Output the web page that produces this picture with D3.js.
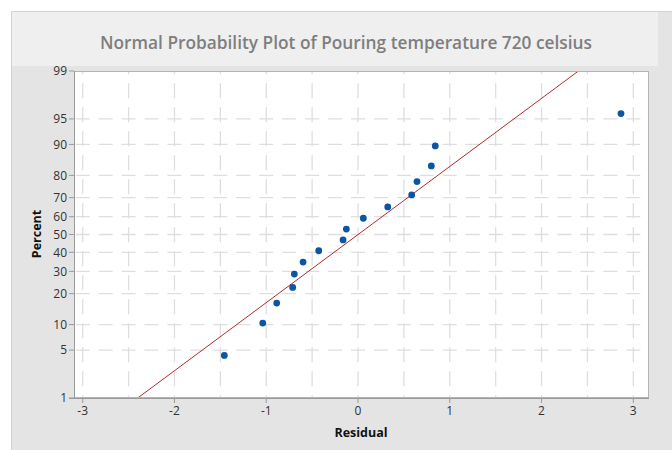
<!DOCTYPE html>
<html>
<head>
<meta charset="utf-8">
<script src="https://cdn.jsdelivr.net/npm/d3@7"></script>
<style>
  body { margin: 0; background: #fff; }
  svg { display: block; }
  text { font-family: "Open Sans", "Noto Sans", sans-serif; }
</style>
</head>
<body>
<svg></svg>
<script>
// residuals, sorted
const residuals = [-1.457, -1.038, -0.886, -0.712, -0.694, -0.599, -0.428, -0.163,
                   -0.127, 0.058, 0.324, 0.585, 0.643, 0.799, 0.842, 2.866]
const percentTicks = [1, 5, 10, 20, 30, 40, 50, 60, 70, 80, 90, 95, 99]
const percentGrid = [5, 10, 20, 30, 40, 50, 60, 70, 80, 90, 95]
const residualTicks = [-3, -2, -1, 0, 1, 2, 3]
const residualGrid = [-3, -2.5, -2, -1.5, -1, -0.5, 0, 0.5, 1, 1.5, 2, 2.5, 3]
const title = 'Normal Probability Plot of Pouring temperature 720 celsius'

// inverse normal cdf (Acklam)
function qnorm(p) {
  const a = [-39.69683028665376, 220.9460984245205, -275.9285104469687, 138.3577518672690, -30.66479806614716, 2.506628277459239]
  const b = [-54.47609879822406, 161.5858368580409, -155.6989798598866, 66.80131188771972, -13.28068155288572]
  const c = [-0.007784894002430293, -0.3223964580411365, -2.400758277161838, -2.549732539343734, 4.374664141464968, 2.938163982698783]
  const d = [0.007784695709041462, 0.3224671290700398, 2.445134137142996, 3.754408661907416]
  const pl = 0.02425
  let q, r
  if (p < pl) {
    q = Math.sqrt(-2 * Math.log(p))
    return (((((c[0]*q+c[1])*q+c[2])*q+c[3])*q+c[4])*q+c[5]) / ((((d[0]*q+d[1])*q+d[2])*q+d[3])*q+1)
  }
  if (p > 1 - pl) {
    q = Math.sqrt(-2 * Math.log(1 - p))
    return -(((((c[0]*q+c[1])*q+c[2])*q+c[3])*q+c[4])*q+c[5]) / ((((d[0]*q+d[1])*q+d[2])*q+d[3])*q+1)
  }
  q = p - 0.5
  r = q * q
  return (((((a[0]*r+a[1])*r+a[2])*r+a[3])*r+a[4])*r+a[5])*q / (((((b[0]*r+b[1])*r+b[2])*r+b[3])*r+b[4])*r+1)
}

const W = 672, H = 450
const L = 74, R = 649, T = 71, B = 398

const svg = d3.select('svg').attr('width', W).attr('height', H)

// panel backgrounds
svg.append('rect').attr('x', 11).attr('y', 11).attr('width', W - 11).attr('height', H - 11)
  .attr('fill', '#e4e4e4')
svg.append('rect').attr('x', 11).attr('y', 11).attr('width', 647).attr('height', 55)
  .attr('fill', '#efefef')
svg.append('path').attr('d', `M11.5,${H}V11.5H${W}`).attr('fill', 'none').attr('stroke', '#d2d2d2')

svg.append('text')
  .attr('x', 346).attr('y', 49)
  .attr('text-anchor', 'middle')
  .attr('font-size', 17.3).attr('font-weight', 600)
  .attr('fill', '#7e7e7e')
  .text(title)

const x = d3.scaleLinear().domain([-3.095, 3.171]).range([L, R])
const z = d3.scaleLinear().domain([qnorm(0.01), qnorm(0.99)]).range([B, T])
const y = p => z(qnorm(p / 100))

svg.append('rect').attr('x', L).attr('y', T).attr('width', R - L).attr('height', B - T)
  .attr('fill', '#fff')

svg.append('clipPath').attr('id', 'plot')
  .append('rect').attr('x', L).attr('y', T).attr('width', R - L).attr('height', B - T)

const grid = svg.append('g').attr('clip-path', 'url(#plot)')
  .attr('stroke', '#dedede').attr('stroke-width', 1.3)

const half = (x(0.5) - x(0)) / 2
const dashH = 14
const startX = x(-3) - dashH / 2 - half
grid.selectAll('.hgrid').data(percentGrid).enter().append('line')
  .attr('x1', startX).attr('x2', R)
  .attr('y1', d => y(d)).attr('y2', d => y(d))
  .attr('stroke-dasharray', `${dashH},${half - dashH}`)

grid.selectAll('.vgrid').data(residualGrid).enter().append('line')
  .attr('x1', d => x(d)).attr('x2', d => x(d))
  .attr('y1', T).attr('y2', B)
  .attr('stroke-dasharray', '15,9')
  .attr('stroke-dashoffset', 11.7)

// fitted line
const mean = d3.mean(residuals)
const sd = d3.deviation(residuals)
const zs = [qnorm(0.005), qnorm(0.995)]
svg.append('g').attr('clip-path', 'url(#plot)')
  .append('line')
  .attr('x1', x(mean + sd * zs[0])).attr('y1', z(zs[0]))
  .attr('x2', x(mean + sd * zs[1])).attr('y2', z(zs[1]))
  .attr('stroke', '#b22a2a').attr('stroke-width', 1)

// points, median ranks
const n = residuals.length
svg.append('g').selectAll('circle').data(residuals).enter().append('circle')
  .attr('cx', d => x(d))
  .attr('cy', (d, i) => y((i + 1 - 0.3) / (n + 0.4) * 100))
  .attr('r', 3.4)
  .attr('fill', '#0b56a4')

// frame
svg.append('rect').attr('x', L + 0.5).attr('y', T + 0.5).attr('width', R - L - 1).attr('height', B - T - 1)
  .attr('fill', 'none').attr('stroke', '#b4b4b4')

// axes
const yAxis = svg.append('g').attr('transform', `translate(${L},0)`)
yAxis.selectAll('.tick').data(percentTicks).enter().append('g')
  .attr('transform', d => `translate(0,${y(d)})`)
  .each(function(d) {
    const g = d3.select(this)
    g.append('line').attr('x1', -5).attr('x2', 0).attr('stroke', '#999')
    g.append('text').attr('x', -7).attr('dy', '0.35em')
      .attr('text-anchor', 'end').attr('font-size', 12).attr('fill', '#333')
      .text(d)
  })
yAxis.append('line').attr('x1', 0.5).attr('x2', 0.5).attr('y1', T).attr('y2', B + 0.5).attr('stroke', '#999')

const xAxis = svg.append('g').attr('transform', `translate(0,${B})`)
xAxis.selectAll('.tick').data(residualTicks).enter().append('g')
  .attr('transform', d => `translate(${x(d)},0)`)
  .each(function(d) {
    const g = d3.select(this)
    g.append('line').attr('y1', 0).attr('y2', 5).attr('stroke', '#999')
    g.append('text').attr('y', 17)
      .attr('text-anchor', 'middle').attr('font-size', 12).attr('fill', '#333')
      .text(d)
  })
xAxis.append('line').attr('x1', L - 5).attr('x2', R).attr('y1', 0.5).attr('y2', 0.5).attr('stroke', '#999')

svg.append('text')
  .attr('x', 361).attr('y', 437)
  .attr('text-anchor', 'middle')
  .attr('font-size', 12.5).attr('font-weight', 700).attr('fill', '#111')
  .text('Residual')

svg.append('text')
  .attr('transform', 'translate(41,234) rotate(-90)')
  .attr('text-anchor', 'middle')
  .attr('font-size', 12.5).attr('font-weight', 700).attr('fill', '#111')
  .text('Percent')
</script>
</body>
</html>
